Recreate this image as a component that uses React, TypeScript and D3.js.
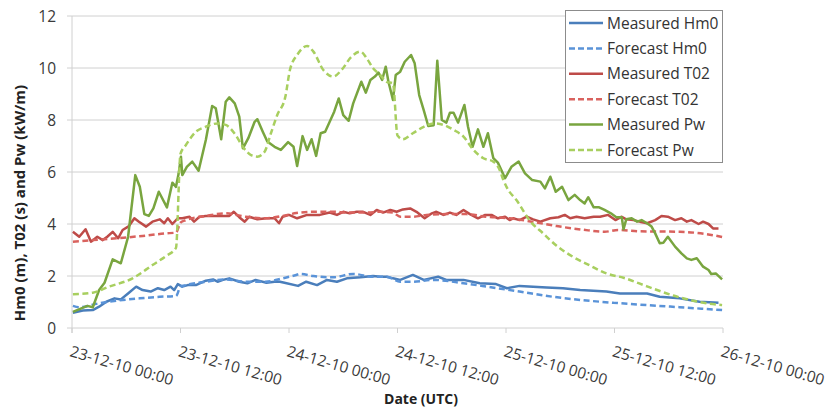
import React from 'react';
import * as d3 from 'd3';

const tickHours = [0, 12, 24, 36, 48, 60, 72];
const tickLabels = [
  '23-12-10 00:00', '23-12-10 12:00', '24-12-10 00:00', '24-12-10 12:00',
  '25-12-10 00:00', '25-12-10 12:00', '26-12-10 00:00',
];
const yTicks = [0, 2, 4, 6, 8, 10, 12];

// [hours since 23-12-10 00:00, value]
const measuredHm0: [number, number][] = [
  [0.1,0.59],[1.2,0.67],[2.3,0.69],[3.0,0.82],[3.8,1.01],[4.7,1.14],[5.4,1.1],[6.2,1.33],[7.1,1.59],[7.8,1.46],
  [8.7,1.4],[9.5,1.53],[10.2,1.46],[10.9,1.59],[11.3,1.46],[11.7,1.69],[12.2,1.59],[12.8,1.65],[13.7,1.65],[14.8,1.82],
  [15.6,1.87],[16.1,1.78],[16.7,1.85],[17.4,1.91],[18.5,1.78],[19.4,1.72],[20.3,1.85],[21.5,1.74],[22.4,1.78],[23.0,1.78],
  [23.5,1.74],[25.0,1.62],[25.9,1.78],[27.1,1.65],[28.2,1.85],[29.3,1.78],[30.4,1.91],[31.9,1.95],[33.3,2.0],[34.1,1.97],
  [34.8,1.97],[35.5,1.91],[36.3,1.85],[37.7,2.04],[38.9,1.85],[40.5,1.97],[41.4,1.85],[43.3,1.85],[45.1,1.72],[46.9,1.69],
  [48.1,1.53],[49.5,1.62],[52.5,1.56],[54.3,1.53],[56.2,1.46],[59.1,1.4],[60.6,1.33],[63.6,1.33],[65.0,1.2],[67.2,1.14],
  [69.4,1.01],[71.5,0.97],
];
const forecastHm0: [number, number][] = [
  [0.1,0.85],[0.8,0.8],[3.0,0.95],[4.9,1.05],[7.5,1.14],[9.7,1.2],[11.5,1.23],[12,1.59],[12.6,1.65],[14.8,1.78],
  [17.0,1.87],[19.2,1.78],[21.4,1.78],[23.3,1.91],[24.8,2.04],[25.2,2.08],[26.7,2.0],[28.9,1.95],[31.1,2.08],[33.3,1.97],
  [34.8,1.97],[36.3,1.78],[37.7,1.78],[39.9,1.85],[43.3,1.72],[45.9,1.59],[49.5,1.4],[53.2,1.2],[56.2,1.08],[59.9,0.97],
  [63.6,0.88],[67.2,0.8],[71.9,0.69],
];
const measuredT02: [number, number][] = [
  [0.1,3.7],[0.8,3.51],[1.5,3.8],[2.1,3.32],[2.8,3.51],[3.4,3.38],[3.9,3.51],[4.5,3.7],[5.1,3.45],[5.6,3.77],
  [6.3,3.92],[6.9,4.22],[7.4,4.09],[8.2,3.9],[8.9,4.09],[9.7,4.18],[10.2,4.03],[10.6,4.22],[11.1,4.0],[11.7,4.22],
  [12.2,4.22],[13.0,4.28],[13.5,4.09],[14.1,4.28],[14.8,4.31],[15.7,4.31],[16.7,4.31],[17.4,4.31],[17.9,4.47],[18.5,4.26],
  [19.1,4.09],[19.6,4.28],[20.5,4.18],[21.5,4.22],[22.4,4.22],[22.9,4.03],[23.3,4.28],[24.0,4.35],[24.9,4.22],[26.0,4.35],
  [27.4,4.35],[28.5,4.44],[29.3,4.35],[30.0,4.47],[30.7,4.41],[31.5,4.47],[32.2,4.47],[33.0,4.35],[33.7,4.54],[34.4,4.44],
  [35.2,4.54],[35.9,4.47],[36.6,4.56],[37.4,4.6],[38.1,4.47],[39.0,4.22],[39.8,4.41],[40.3,4.47],[41.1,4.35],[41.8,4.44],
  [42.5,4.35],[43.3,4.54],[44.0,4.38],[44.9,4.22],[45.7,4.35],[46.4,4.35],[47.1,4.22],[47.9,4.28],[48.4,4.15],[48.8,4.22],
  [49.5,4.15],[50.3,4.28],[51.0,4.18],[51.8,4.09],[52.9,4.22],[53.8,4.26],[54.5,4.35],[55.1,4.22],[55.8,4.28],[56.7,4.22],
  [57.7,4.28],[58.4,4.28],[59.3,4.35],[60.1,4.15],[60.8,4.28],[61.3,4.18],[62.1,4.15],[62.8,4.09],[63.6,4.03],[64.5,4.15],
  [65.2,4.31],[65.9,4.28],[66.7,4.15],[67.4,4.22],[68.0,4.09],[68.5,4.15],[69.3,4.0],[69.8,4.09],[70.4,4.0],[70.9,3.83],
  [71.5,3.83],
];
const forecastT02: [number, number][] = [
  [0.1,3.32],[2.3,3.38],[4.9,3.45],[7.8,3.54],[10.4,3.64],[11.5,3.67],[12,4.05],[12.6,4.15],[14.8,4.31],[17.0,4.41],
  [19.2,4.28],[21.4,4.22],[23.3,4.31],[24.8,4.42],[26.7,4.47],[28.9,4.47],[30.4,4.44],[32.6,4.44],[34.1,4.47],[35.5,4.44],
  [36.3,4.28],[37.7,4.28],[39.2,4.35],[41.4,4.38],[43.6,4.38],[45.8,4.28],[48.4,4.22],[50.7,4.1],[53.6,3.92],[56.5,3.78],
  [58.9,3.7],[60.4,3.77],[62.8,3.72],[67.2,3.7],[70.0,3.62],[71.9,3.5],
];
const measuredPw: [number, number][] = [
  [0.1,0.62],[1.7,0.85],[2.3,0.8],[3.0,1.46],[3.6,1.74],[4.5,2.64],[5.4,2.49],[6.2,3.5],[7.0,5.88],[7.5,5.43],
  [8.0,4.38],[8.5,4.31],[9.0,4.6],[9.6,5.24],[10.5,4.64],[11.1,5.59],[11.5,5.43],[11.8,5.95],[12.05,6.59],[12.2,5.88],
  [12.7,6.2],[13.3,6.4],[14.0,6.05],[14.8,7.23],[15.5,8.54],[15.9,8.45],[16.5,7.26],[17.0,8.7],[17.4,8.87],[18.0,8.64],
  [18.5,8.13],[18.9,6.91],[19.5,7.3],[20.2,7.93],[20.5,8.03],[21.1,7.55],[21.6,7.17],[22.4,6.97],[23.1,6.85],[23.9,7.15],
  [24.5,6.97],[24.9,6.23],[25.5,7.38],[26.0,6.85],[26.5,7.26],[27.0,6.62],[27.5,7.49],[28.0,7.55],[28.5,7.93],[29.0,8.32],
  [29.5,8.83],[30.0,8.19],[30.6,7.97],[31.1,8.64],[32.0,9.47],[32.5,9.05],[33.0,9.54],[33.5,9.67],[33.9,9.82],[34.3,9.54],
  [34.7,10.05],[35.0,9.47],[35.5,8.77],[35.8,9.73],[36.3,9.86],[36.8,10.24],[37.5,10.5],[37.9,10.18],[38.4,8.96],[38.9,8.38],
  [39.4,7.77],[40.0,7.8],[40.4,10.28],[40.9,8.0],[41.4,7.9],[41.8,8.28],[42.2,8.28],[42.7,7.9],[43.4,8.58],[43.8,7.74],
  [44.3,6.97],[44.9,7.64],[45.5,6.97],[46.0,7.49],[46.6,6.53],[47.1,6.36],[47.9,5.76],[48.6,6.2],[49.4,6.4],[50.1,5.95],
  [50.9,5.69],[51.8,5.63],[52.3,5.37],[52.9,5.82],[53.5,5.24],[54.2,5.43],[54.9,4.92],[55.6,5.12],[56.2,4.92],[56.7,4.79],
  [57.1,5.03],[57.7,4.64],[58.3,4.64],[58.9,4.54],[59.6,4.41],[60.2,4.26],[60.8,4.26],[61.0,3.8],[61.3,4.18],[61.9,4.22],
  [62.5,4.09],[63.0,4.15],[63.6,4.03],[64.1,3.9],[64.5,3.64],[65.0,3.26],[65.4,3.28],[65.9,3.51],[66.7,3.13],[67.4,2.87],
  [68.0,2.68],[68.5,2.62],[69.1,2.68],[69.8,2.36],[70.4,2.23],[70.7,2.08],[71.2,2.1],[71.9,1.87],
];
const forecastPw: [number, number][] = [
  [0.1,1.3],[2.3,1.36],[4.1,1.59],[6.7,1.91],[8.9,2.42],[10.4,2.77],[11.5,3.08],[12,6.7],[12.6,7.04],[13.7,7.55],
  [14.8,7.74],[16.1,7.87],[17.0,7.81],[18.1,7.42],[18.9,6.97],[19.8,6.65],[20.5,6.59],[21.3,6.78],[22.0,7.49],[22.7,8.19],
  [23.6,8.9],[24.1,9.92],[24.9,10.5],[26.0,10.85],[26.7,10.63],[27.8,9.92],[28.9,9.67],[29.8,9.92],[30.9,10.43],[31.9,10.63],
  [32.6,10.37],[33.3,9.99],[34.1,9.73],[34.8,9.47],[35.5,9.41],[36.0,7.4],[36.6,7.26],[37.7,7.49],[38.9,7.74],[40.0,7.87],
  [41.1,7.81],[42.2,7.62],[43.3,7.36],[44.4,6.85],[45.5,6.53],[46.6,6.4],[47.3,6.08],[47.7,5.7],[48.1,5.4],[49.2,4.9],
  [50.7,4.1],[52.1,3.64],[53.6,3.16],[55.4,2.74],[57.3,2.4],[59.1,2.1],[61.0,1.93],[63.6,1.6],[64.7,1.46],[66.5,1.25],
  [68.3,1.08],[70.2,0.95],[71.9,0.88],
];

const seriesNames = ['Measured Hm0', 'Forecast Hm0', 'Measured T02', 'Forecast T02', 'Measured Pw', 'Forecast Pw'];
const seriesData = [measuredHm0, forecastHm0, measuredT02, forecastT02, measuredPw, forecastPw];
const seriesColors = ['#4a7ebb', '#5a93d8', '#be4b48', '#d9625e', '#79a53f', '#a8cf5f'];
const seriesDashed = [false, true, false, true, false, true];

export default function App() {
  const W = 832, H = 408;
  const left = 72, right = 723, top = 16, bottom = 328;
  const x = d3.scaleLinear().domain([0, 72]).range([left, right]);
  const y = d3.scaleLinear().domain([0, 12]).range([bottom, top]);
  const font = "'Open Sans', 'DejaVu Sans', sans-serif";

  const lineLinear = d3.line<[number, number]>().x(d => x(d[0])).y(d => y(d[1]));
  const lineSmooth = d3.line<[number, number]>().x(d => x(d[0])).y(d => y(d[1])).curve(d3.curveMonotoneX);

  const legX = 565, legY = 10, legW = 157, legH = 152;
  const rowY = (i: number) => 23 + i * 25.4;

  return (
    <div style={{ position: 'fixed', left: 0, top: 0 }}>
      <svg width={W} height={H} style={{ display: 'block', background: '#fff' }} fontFamily={font}>
        {/* gridlines */}
        {yTicks.map(t => (
          <line key={'g' + t} x1={left - 5} x2={right} y1={y(t)} y2={y(t)} stroke="#d0d0d0" strokeWidth={1} />
        ))}
        {/* y axis line */}
        <line x1={left} x2={left} y1={top} y2={bottom + 5} stroke="#d0d0d0" strokeWidth={1} />
        {/* x ticks */}
        {tickHours.map(h => (
          <line key={'t' + h} x1={x(h)} x2={x(h)} y1={bottom} y2={bottom + 5} stroke="#d0d0d0" strokeWidth={1} />
        ))}
        {/* y tick labels */}
        {yTicks.map(t => (
          <text key={'yl' + t} x={56} y={y(t)} dy="0.36em" textAnchor="end" fontSize={15.5} fill="#3a3a3a">{t}</text>
        ))}
        {/* x tick labels */}
        {tickHours.map((h, i) => (
          <text key={'xl' + h} transform={`translate(${x(h) - 3},${356}) rotate(16)`} fontSize={15.5} fill="#3a3a3a">
            {tickLabels[i]}
          </text>
        ))}
        {/* axis titles */}
        <text x={421} y={404} textAnchor="middle" fontSize={14} fontWeight="bold" fill="#222">Date (UTC)</text>
        <text transform={`translate(25,203) rotate(-90)`} textAnchor="middle" fontSize={15} fontWeight="bold" fill="#222">
          Hm0 (m), T02 (s) and Pw (kW/m)
        </text>
        {/* series */}
        {seriesData.map((d, i) => (
          <path key={'s' + i} d={(seriesDashed[i] ? lineSmooth : lineLinear)(d) || ''} fill="none"
            stroke={seriesColors[i]} strokeWidth={2.5} strokeDasharray={seriesDashed[i] ? '6,3.5' : undefined}
            strokeLinejoin="round" />
        ))}
        {/* legend */}
        <rect x={legX + 0.5} y={legY + 0.5} width={legW} height={legH} fill="#fff" stroke="#8c8c8c" strokeWidth={1} />
        {seriesNames.map((n, i) => (
          <g key={'lg' + i}>
            <line x1={569} x2={603} y1={rowY(i)} y2={rowY(i)} stroke={seriesColors[i]} strokeWidth={2.5}
              strokeDasharray={seriesDashed[i] ? '6,3' : undefined} />
            <text x={607} y={rowY(i)} dy="0.36em" fontSize={15.5} fill="#333">{n}</text>
          </g>
        ))}
      </svg>
    </div>
  );
}
